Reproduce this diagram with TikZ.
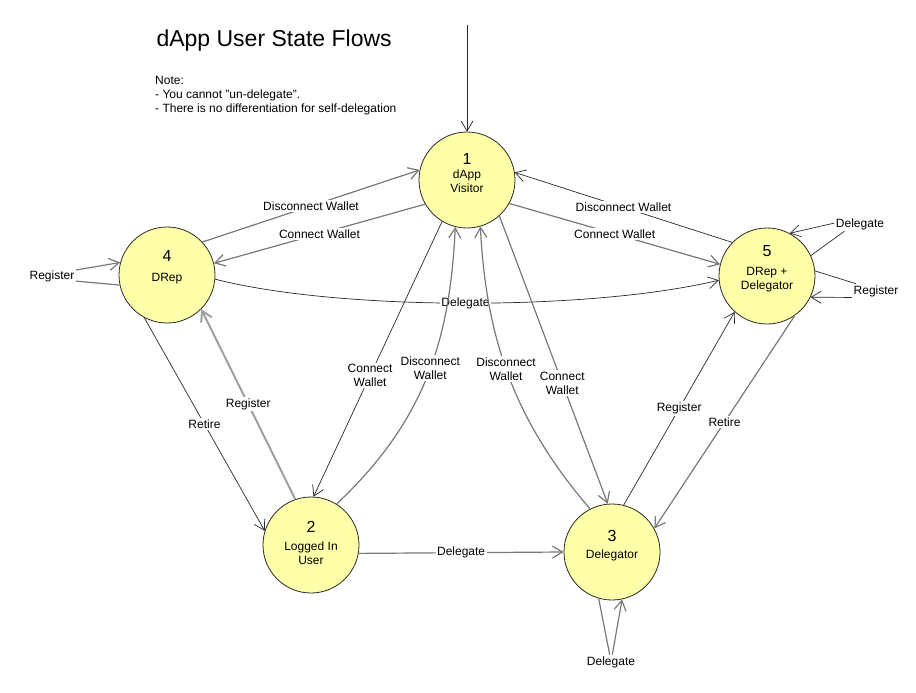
\documentclass[tikz,border=0pt]{standalone}
\usepackage{fontspec}
\setmainfont{Liberation Sans}
\usetikzlibrary{arrows.meta}
\definecolor{nodefill}{RGB}{255,255,170}
\definecolor{dk}{RGB}{40,40,40}
\definecolor{gr}{RGB}{120,120,120}
\definecolor{lgr}{RGB}{160,160,160}
\begin{document}
\begin{tikzpicture}[x=1pt,y=-1pt,
  state/.style={circle,draw=dk,line width=0.8pt,fill=nodefill,minimum size=96pt,inner sep=0pt,align=center,font=\fontsize{12}{14}\selectfont},
  lbl/.style={font=\fontsize{12}{14}\selectfont,fill=white,inner sep=1.5pt,align=center},
  arr/.style={-{Straight Barb[length=10pt,width=12pt]}},
  dark/.style={arr,draw=dk,line width=0.7pt},
  gray/.style={arr,draw=gr,line width=1.2pt},
  lgray/.style={arr,draw=lgr,line width=2pt},
  plaindark/.style={draw=dk,line width=0.7pt},
  plaingray/.style={draw=gr,line width=1.2pt}]
\useasboundingbox (0,0) rectangle (916,693);

% title and notes
\node[anchor=west,font=\fontsize{23}{26}\selectfont] (title) at (153,41) {dApp User State Flows};
\node[anchor=north west,align=left,inner sep=0pt,font=\fontsize{12}{14}\selectfont] (note) at (155,76)
  {Note:\\- You cannot "un-delegate".\\- There is no differentiation for self-delegation};

% states
\node[state] (n1) at (467,180) {\raisebox{4.5pt}[\height][\depth]{\begin{tabular}{@{}c@{}}{\fontsize{16}{18}\selectfont 1}\\[0pt]dApp\\Visitor\end{tabular}}};
\node[state] (n4) at (167,275) {\raisebox{6.5pt}[\height][\depth]{\begin{tabular}{@{}c@{}}{\fontsize{16}{18}\selectfont 4}\\[6pt]DRep\end{tabular}}};
\node[state] (n5) at (767,276) {\raisebox{6pt}[\height][\depth]{\begin{tabular}{@{}c@{}}{\fontsize{16}{18}\selectfont 5}\\[5pt]DRep +\\Delegator\end{tabular}}};
\node[state] (n2) at (311,545) {\begin{tabular}{@{}c@{}}{\fontsize{16}{18}\selectfont 2}\\[4pt]Logged In\\User\end{tabular}};
\node[state] (n3) at (612,552) {\raisebox{5pt}[\height][\depth]{\begin{tabular}{@{}c@{}}{\fontsize{16}{18}\selectfont 3}\\[3pt]Delegator\end{tabular}}};

% entry
\coordinate (start) at (467,25);
\draw[dark] (start) -- (n1.north);

% 4 -> 5 delegate (drawn first, others cross its label)
\draw[dark] (n4.355) .. controls (340,311) and (590,311) .. node[lbl]{Delegate} (n5.185);

% 1 <-> 4
\draw[gray] (n4.43) -- node[lbl,pos=0.5]{Disconnect Wallet} (n1.168);
\draw[gray] (n1.210) -- node[lbl,pos=0.5]{Connect Wallet} (n4.14);
% 1 <-> 5
\draw[dark] (n5.136) -- node[lbl,pos=0.5]{Disconnect Wallet} (n1.9);
\draw[gray] (n1.331) -- node[lbl,pos=0.5]{Connect Wallet} (n5.166);

% 4 <-> 2
\draw[dark] (n4.242) -- node[lbl]{Retire} (n2.163);
\draw[lgray] (n2.109) -- node[lbl]{Register} (n4.315);

% 1 <-> 2
\draw[dark] (n1.239) -- node[lbl,pos=0.56]{Connect\\Wallet} (n2.87);
\draw[gray] (n2.58) .. controls (428,418) and (450,335) .. node[lbl,pos=0.52]{Disconnect\\Wallet} (n1.256);

% 1 <-> 3
\draw[gray] (n3.117) .. controls (512,418) and (486,335) .. node[lbl,pos=0.52]{Disconnect\\Wallet} (n1.286);
\draw[gray] (n1.312) -- node[lbl,pos=0.58]{Connect\\Wallet} (n3.95);

% 3 <-> 5
\draw[dark] (n3.76) -- node[lbl]{Register} (n5.228);
\draw[gray] (n5.305) -- node[lbl]{Retire} (n3.29);

% 2 -> 3
\draw[gray] (n2.350) -- node[lbl]{Delegate} (n3.180);

% self loops
\node[lbl] (reg4) at (52,276) {Register};
\draw[plaingray] (n4.192) -- (reg4.348);
\draw[gray] (reg4.14) -- (n4.165);

\node[lbl] (del3) at (611,662) {Delegate};
\draw[plaingray] (n3.254) -- (del3.100);
\draw[gray] (del3.80) -- (n3.282);

\node[lbl] (del5) at (860,224) {Delegate};
\draw[plaindark] (n5.25) -- (del5.205);
\draw[dark] (del5.178) -- (n5.62);

\node[lbl] (reg5) at (876,291) {Register};
\draw[plaindark] (n5.6) -- (reg5.160);
\draw[dark] (reg5.195) -- (n5.334);
\end{tikzpicture}
\end{document}
